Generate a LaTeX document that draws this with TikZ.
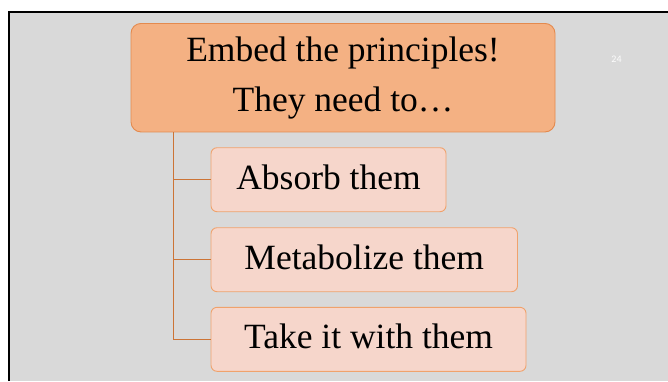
\documentclass[tikz,border=0pt]{standalone}
\usepackage{fontspec}
\setmainfont{Liberation Serif}
\newfontfamily\numfont{Carlito}
\definecolor{slidebg}{HTML}{D9D9D9}
\definecolor{headfill}{HTML}{F4B183}
\definecolor{headline}{HTML}{E48A4E}
\definecolor{itemfill}{HTML}{F6D6CB}
\definecolor{itemline}{HTML}{F0A26C}
\definecolor{branchcol}{HTML}{CC7436}
\tikzset{
  headbox/.style={draw=headline, fill=headfill, line width=0.9pt, rounded corners=10pt,
    minimum width=424pt, minimum height=108.5pt, inner sep=0pt},
  itembox/.style={draw=itemline, fill=itemfill, line width=0.9pt, rounded corners=6pt,
    minimum height=64pt, inner sep=0pt, text height=24pt, text depth=4.8pt,
    font=\fontsize{35.5}{40}\selectfont},
  headtext/.style={anchor=base, inner sep=0pt, font=\fontsize{35.5}{40}\selectfont},
  treebranch/.style={draw=branchcol, line width=1.5pt},
}
\begin{document}
\begin{tikzpicture}[x=1pt,y=-1pt]
\useasboundingbox (0,0) rectangle (668,381);
% slide area with its frame
\fill[white] (0,0) rectangle (668,381);
\fill[slidebg] (9,12) rectangle (668,381);
\draw[black, line width=2pt] (9,381) -- (9,12) -- (668,12);
% page number
\node[text=white!96!slidebg, font=\numfont\fontsize{10}{12}\selectfont] (pg) at (616.5,59) {24};
% heading box
\node[headbox] (main) at (343,77.7) {};
\node[headtext] (t1) at (343,61.7) {Embed the principles!};
\node[headtext] (t2) at (343,111.7) {They need to…};
% item boxes
\node[itembox, minimum width=235pt] (c1) at (328.5,179.7) {Absorb them};
\node[itembox, minimum width=306.5pt] (c2) at (364.25,259.7) {Metabolize them};
\node[itembox, minimum width=315pt] (c3) at (368.5,339.3) {Take it with them};
% tree connectors
\coordinate (tx) at (173.5,0);
\draw[treebranch] (main.south -| tx) |- (c3.west);
\draw[treebranch] (main.south -| tx) |- (c1.west);
\draw[treebranch] (main.south -| tx) |- (c2.west);
\end{tikzpicture}
\end{document}
